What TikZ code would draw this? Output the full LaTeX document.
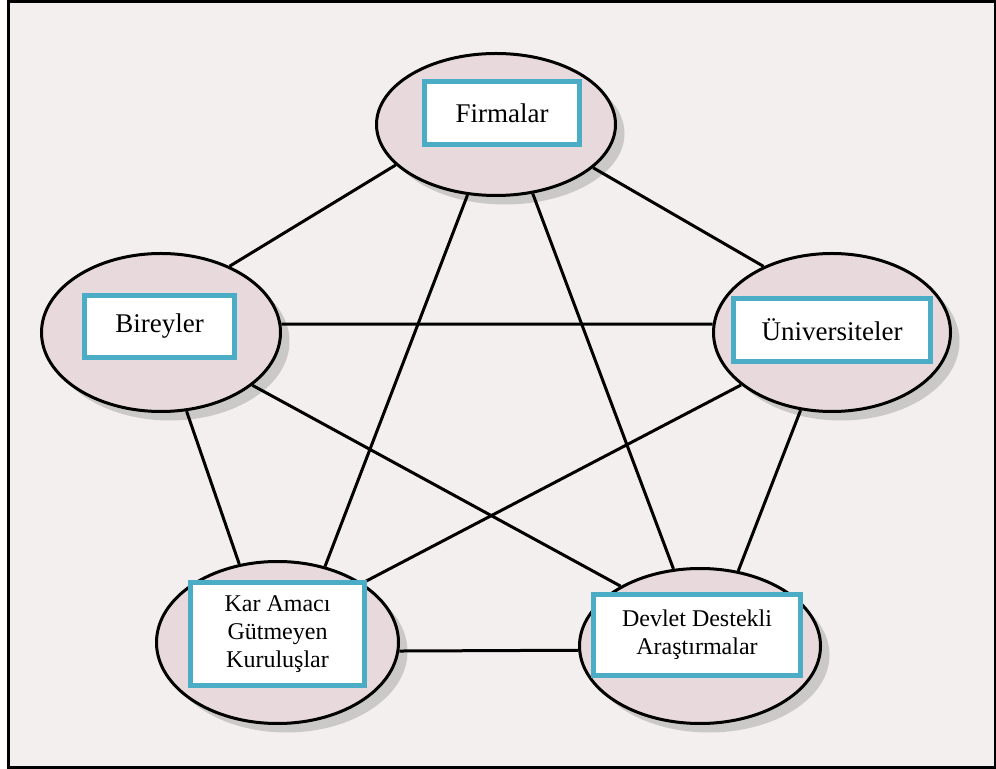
\documentclass[tikz,border=0pt]{standalone}
\usepackage{fontspec}
\setmainfont{Liberation Serif}
\usetikzlibrary{shapes.geometric,shadows}
\definecolor{bgpink}{RGB}{244,239,239}
\definecolor{ovalpink}{RGB}{232,218,220}
\definecolor{boxcyan}{RGB}{75,172,198}

\begin{document}
\begin{tikzpicture}[x=0.5pt,y=-0.5pt,
  oval/.style={ellipse,draw=black,line width=1.5pt,fill=ovalpink,inner sep=0pt,
    drop shadow={shadow xshift=4.5pt,shadow yshift=-4.5pt,fill=black!36}},
  tagbox/.style={draw=boxcyan,line width=2.5pt,fill=white,inner sep=0pt,align=center},
  bigtext/.style={font=\fontsize{13.5}{16}\selectfont},
  smalltext/.style={font=\fontsize{12}{14}\selectfont},
  link/.style={line width=1.5pt}]

\useasboundingbox (0,0) rectangle (996,769);
\fill[white] (0,0) rectangle (996,769);
\draw[line width=1.5pt,fill=bgpink] (8.5,2) rectangle (995,767);

\node[oval,minimum width=119.5pt,minimum height=71pt] (F0) at (496,124.5) {};
\node[oval,minimum width=119.5pt,minimum height=79pt] (B0) at (161,332.5) {};
\node[oval,minimum width=118.5pt,minimum height=79pt] (U0) at (832,332.5) {};
\node[oval,minimum width=121pt,minimum height=81pt] (K0) at (277.5,642.5) {};
\node[oval,minimum width=120.5pt,minimum height=77.5pt] (D0) at (700,646) {};

\draw[link] (F0.202) -- (B0.44);
\draw[link] (F0.336) -- (U0.136);
\draw[link] (F0.248) -- (K0.58);
\draw[link] (F0.298) -- (D0.109);
\draw[link] (B0.4) -- (U0.176);
\draw[link] (B0.288) -- (K0.116);
\draw[link] (B0.330) -- (D0.143);
\draw[link] (U0.210) -- (K0.35);
\draw[link] (U0.248) -- (D0.63);
\draw[link] (K0.356) -- (D0.182);

\node[tagbox,bigtext,minimum width=77.5pt,minimum height=31.5pt] (F1) at (502,113) {Firmalar};
\node[tagbox,bigtext,minimum width=75pt,minimum height=31pt] (B1) at (159.5,326.5) {Bireyler};
\node[tagbox,bigtext,minimum width=98.5pt,minimum height=31.5pt] (U1) at (832,330) {Üniversiteler};
\node[tagbox,smalltext,minimum width=87pt,minimum height=51.5pt] (K1) at (277.5,634) {Kar Amacı\\Gütmeyen\\Kuruluşlar};
\node[tagbox,smalltext,minimum width=103.5pt,minimum height=40.5pt] (D1) at (697,635) {Devlet Destekli\\Araştırmalar};

\end{tikzpicture}
\end{document}
